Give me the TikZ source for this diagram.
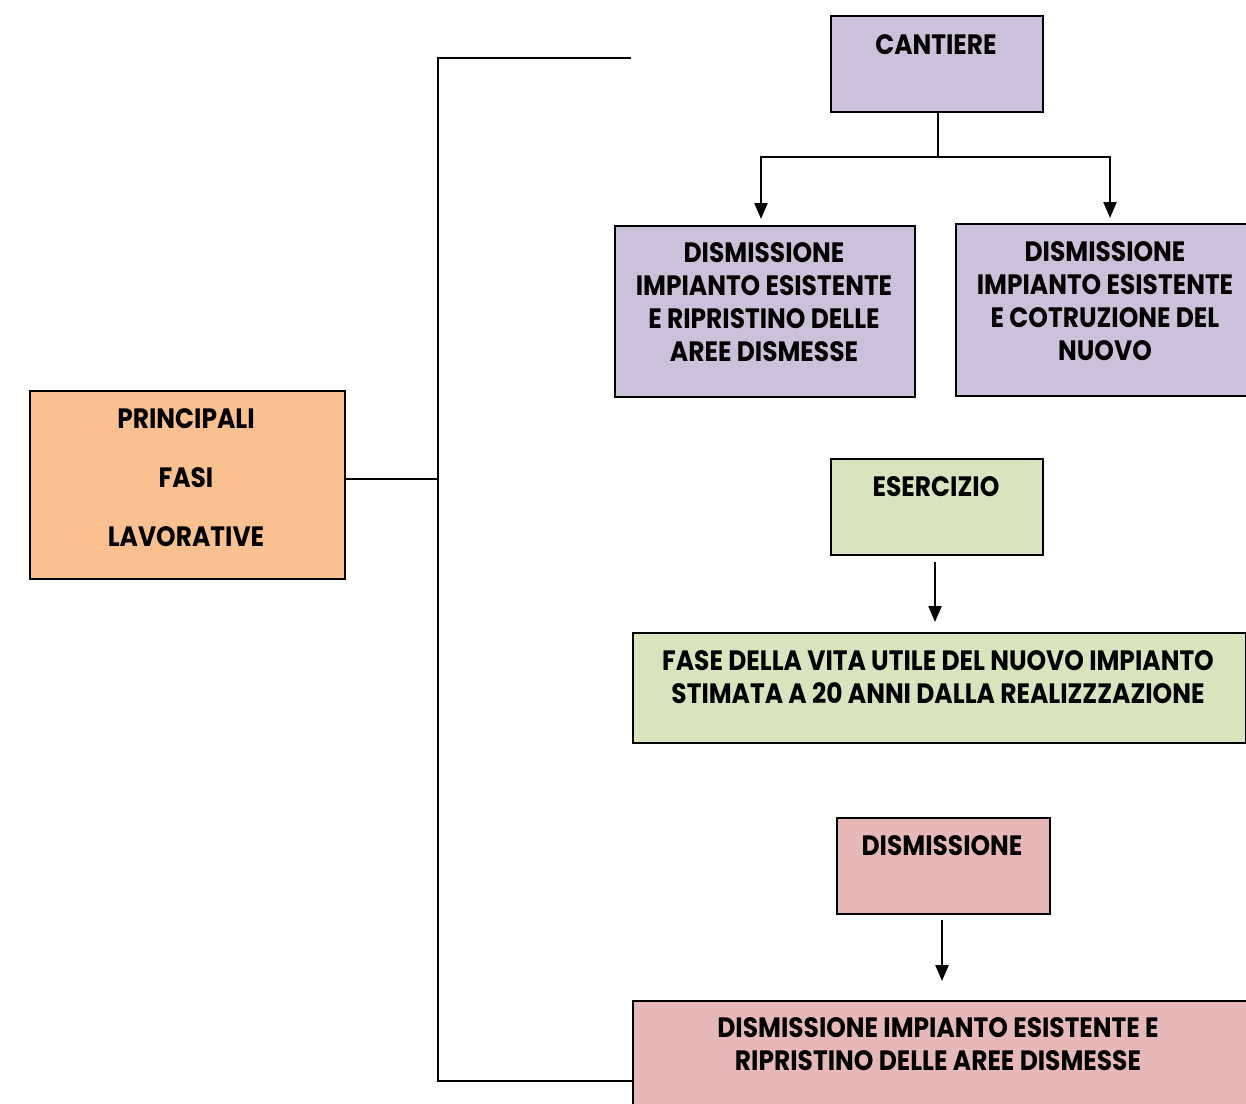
\documentclass[tikz,border=0pt]{standalone}
\usepackage{fontspec}
\setmainfont{Poppins}[FakeStretch=0.89]
\usetikzlibrary{arrows.meta}
\definecolor{orangefill}{HTML}{FAC090}
\definecolor{lilac}{HTML}{CCC1DA}
\definecolor{sage}{HTML}{D7E4BD}
\definecolor{rose}{HTML}{E6B9B8}
\tikzset{
  box/.style={draw=black, line width=2.3pt, anchor=north west, inner sep=0pt},
  txt/.style={font=\fontsize{28}{33}\selectfont\bfseries, align=center, inner sep=0pt, anchor=north},
  conn/.style={line width=2.5pt},
  arr/.style={line width=2.3pt, -{Triangle[length=16pt,width=13pt]}}
}
\begin{document}
\begin{tikzpicture}[x=1pt,y=-1pt]
\useasboundingbox (0,0) rectangle (1246,1103);
% boxes
\node[box, fill=orangefill, minimum width=315pt, minimum height=188pt] (pfl) at (29,390) {};
\node[box, fill=lilac, minimum width=212pt, minimum height=96pt] (cant) at (830,15) {};
\node[box, fill=lilac, minimum width=300pt, minimum height=171pt] (dis1) at (614,225) {};
\node[box, fill=lilac, minimum width=300pt, minimum height=172pt] (dis2) at (955,223) {};
\node[box, fill=sage, minimum width=212pt, minimum height=96pt] (eser) at (830,458) {};
\node[box, fill=sage, minimum width=613pt, minimum height=110pt] (fase) at (632,632) {};
\node[box, fill=rose, minimum width=213pt, minimum height=96pt] (dism) at (836,817) {};
\node[box, fill=rose, minimum width=614pt, minimum height=120pt] (ripr) at (632,1000) {};
% texts
\node[txt, font=\fontsize{28}{59}\selectfont\bfseries] (tpfl) at (186,408) {PRINCIPALI\\FASI\\LAVORATIVE};
\node[txt] (tcant) at (936,34) {CANTIERE};
\node[txt] (tdis1) at (764,242) {DISMISSIONE\\IMPIANTO ESISTENTE\\E RIPRISTINO DELLE\\AREE DISMESSE};
\node[txt] (tdis2) at (1105,241) {DISMISSIONE\\IMPIANTO ESISTENTE\\E COTRUZIONE DEL\\NUOVO};
\node[txt] (teser) at (936,476) {ESERCIZIO};
\node[txt] (tfase) at (938,650) {FASE DELLA VITA UTILE DEL NUOVO IMPIANTO\\STIMATA A 20 ANNI DALLA REALIZZZAZIONE};
\node[txt] (tdism) at (942,835) {DISMISSIONE};
\node[txt] (tripr) at (938,1017) {DISMISSIONE IMPIANTO ESISTENTE E\\RIPRISTINO DELLE AREE DISMESSE};
% main bracket
\coordinate (top) at (631,58);
\coordinate (bk) at (438,479);
\draw[conn] (pfl.east |- bk) -- (bk);
\draw[conn] (top) -- (438,58) -- (438,1081) -- (ripr.west |- 0,1081);
% cantiere branches
\coordinate (split) at (938,157);
\draw[conn] (cant.south -| split) -- (split);
\draw[arr] (split) -- (761,157) -- ([yshift=6pt]dis1.north -| 761,0);
\draw[arr] (split) -- (1110,157) -- ([yshift=5pt]dis2.north -| 1110,0);
% esercizio / dismissione arrows
\draw[arr] ([yshift=-6pt]eser.south -| 935,0) -- ([yshift=10pt]fase.north -| 935,0);
\draw[arr] ([yshift=-5pt]dism.south -| 942,0) -- ([yshift=19pt]ripr.north -| 942,0);
\end{tikzpicture}
\end{document}
